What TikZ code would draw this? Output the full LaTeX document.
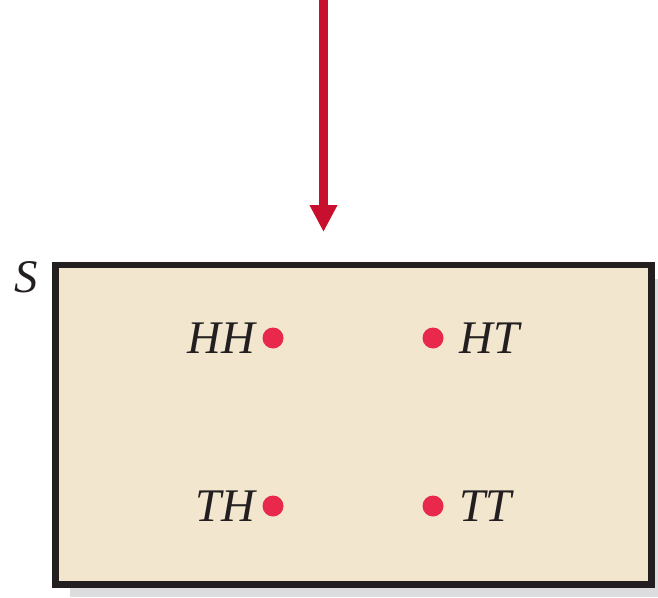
\documentclass[tikz,border=0pt]{standalone}
\usepackage{fontspec}
\setmainfont{Liberation Serif}
\usetikzlibrary{arrows.meta,positioning}
\definecolor{cRed}{HTML}{C8102E}
\definecolor{cDot}{HTML}{E8294C}
\definecolor{cBeige}{HTML}{F2E6CF}
\definecolor{cInk}{HTML}{231F20}
\definecolor{cShade}{HTML}{DCDDDE}

\begin{document}
\begin{tikzpicture}[x=1cm,y=1cm,font=\fontsize{13.3}{15}\selectfont\itshape,
  arr/.style={cRed,line width=.09cm,-{Triangle[length=2.7mm,width=2.6mm]}},
  dot/.style={circle,fill=cDot,inner sep=0pt,minimum size=2.1mm},
  lbl/.style={inner sep=0pt,text=cInk}]
\path[use as bounding box] (0,0) rectangle (6.58,5.97);
% sample space box
\fill[cShade] (.70,0) rectangle (6.58,3.18);
\draw[cInk,fill=cBeige,line width=.065cm] (.555,.125) rectangle (6.515,3.32);
\node[lbl] (s) at (.26,3.20) {S};
% outcomes
\foreach \nm/\x/\y/\side/\gap/\txt in {hh/2.73/2.59/left/.06/HH,ht/4.33/2.59/right/.15/HT,
                                       th/2.73/.91/left/.06/TH,tt/4.33/.91/right/.15/TT}{
  \node[dot] (\nm) at (\x,\y) {};
  \node[lbl,\side=\gap of \nm] (\nm lbl) {\txt};
}
% experiment arrow
\coordinate (src) at (3.235,6.05);
\coordinate (tip) at (3.235,3.65);
\draw[arr] (src) -- (tip);
\end{tikzpicture}
\end{document}
